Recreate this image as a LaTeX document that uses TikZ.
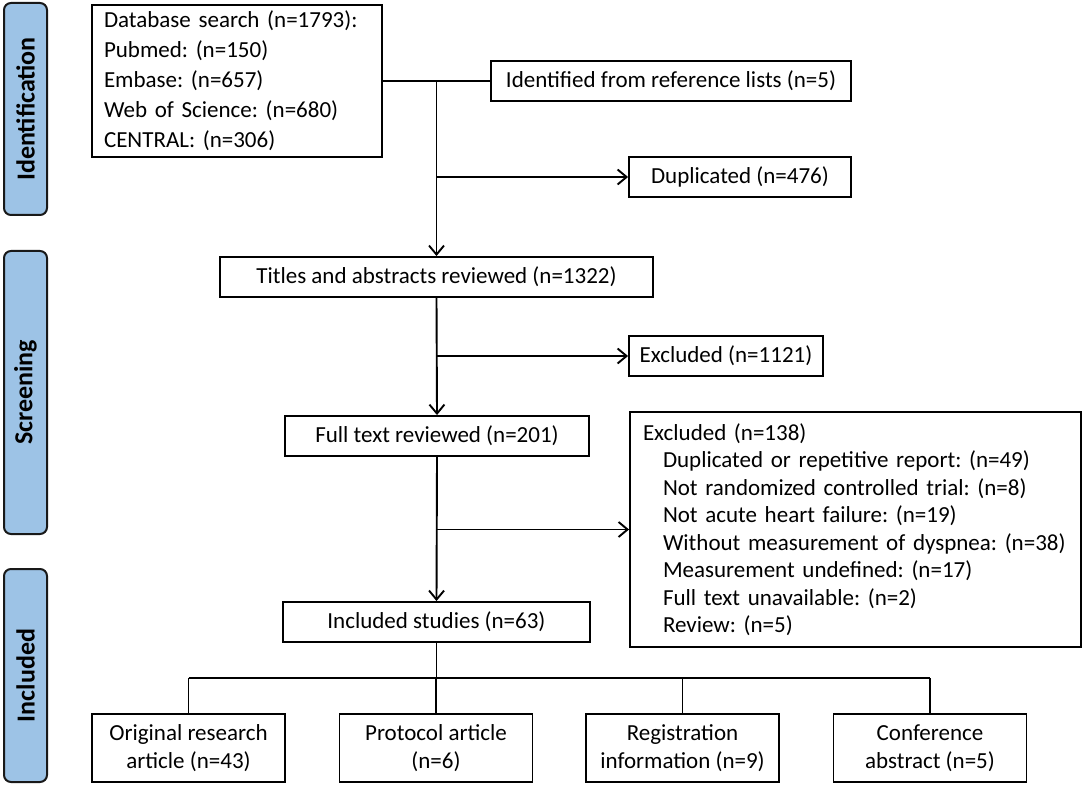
\documentclass[tikz,border=0pt]{standalone}
\usepackage{fontspec}
\setmainfont{Carlito}
\usetikzlibrary{positioning,arrows.meta}

\definecolor{stageblue}{HTML}{9DC3E6}

\tikzset{
    box/.style={draw, line width=1.9pt, minimum height=40pt, inner sep=0pt,
        font=\fontsize{23}{28}\selectfont},
    stage/.style={draw=black!90, line width=2pt, fill=stageblue, rounded corners=7pt,
        rotate=90, minimum height=43pt, inner sep=0pt,
        font=\fontsize{26}{30}\selectfont\bfseries},
    flow/.style={line width=1.9pt, -{Straight Barb[length=9pt,width=15pt,line width=1.9pt]}},
    link/.style={line width=1.9pt},
}

\begin{document}
\frenchspacing
\begin{tikzpicture}[x=1pt, y=-1pt]
    \useasboundingbox (0,0) rectangle (1084,786);

    % stages
    \node[stage, minimum width=212pt] (identification) at (25.5,109) {Identification};
    \node[stage, minimum width=283pt] (screening) at (25.5,392.5) {Screening};
    \node[stage, minimum width=213pt] (included) at (25.5,675.5) {Included};

    % identification
    \node[box, text width=266pt, inner xsep=12pt, minimum height=152pt, align=left,
        font=\fontsize{23}{30}\selectfont] (db) at (237,81)
        {Database search (n=1793):\\Pubmed: (n=150)\\Embase: (n=657)\\Web of Science: (n=680)\\CENTRAL: (n=306)};
    \node[box, minimum width=360pt] (ref) at (671,81) {Identified from reference lists (n=5)};
    \node[box, minimum width=222pt] (dup) at (740,177) {Duplicated (n=476)};

    % screening
    \node[box, minimum width=433pt] (titles) at (436.5,277) {Titles and abstracts reviewed (n=1322)};
    \node[box, minimum width=194pt] (exc1) at (726,356) {Excluded (n=1121)};
    \node[box, minimum width=304pt] (full) at (437,436) {Full text reviewed (n=201)};
    \node[box, text width=425pt, inner xsep=13pt, minimum height=235pt, align=left,
        font=\fontsize{23}{27.5}\selectfont] (exc2) at (855.5,529.5)
        {Excluded (n=138)\\
        \hspace*{20pt}Duplicated or repetitive report: (n=49)\\
        \hspace*{20pt}Not randomized controlled trial: (n=8)\\
        \hspace*{20pt}Not acute heart failure: (n=19)\\
        \hspace*{20pt}Without measurement of dyspnea: (n=38)\\
        \hspace*{20pt}Measurement undefined: (n=17)\\
        \hspace*{20pt}Full text unavailable: (n=2)\\
        \hspace*{20pt}Review: (n=5)};

    % included
    \node[box, minimum width=307pt] (incl) at (436.5,622) {Included studies (n=63)};
    \foreach \x/\t [count=\i] in {188.5/{Original research\\article (n=43)},
            436/{Protocol article\\(n=6)},
            682.5/{Registration\\information (n=9)},
            930/{Conference\\abstract (n=5)}} {
        \node[box, minimum width=193pt, minimum height=68pt, align=center] (out\i) at (\x,748) {\t};
    }

    % connectors
    \draw[link] (db.east) -- (ref.west);
    \draw[flow] (titles.north |- ref.west) -- (titles.north);
    \draw[flow] (titles.north |- dup.west) -- (dup.west);
    \draw[flow] (titles.south) -- (full.north);
    \draw[flow] (titles.south |- exc1.west) -- (exc1.west);
    \draw[flow] (full.south) -- (incl.north);
    \draw[flow] (full.south |- exc2.west) -- (exc2.west);

    \coordinate (split) at (436.5,678);
    \draw[link] (incl.south) -- (split);
    \draw[link] (out1.north |- split) -- (out4.north |- split);
    \foreach \i in {1,...,4} {
        \draw[link] (out\i.north |- split) -- (out\i.north);
    }
\end{tikzpicture}
\end{document}
